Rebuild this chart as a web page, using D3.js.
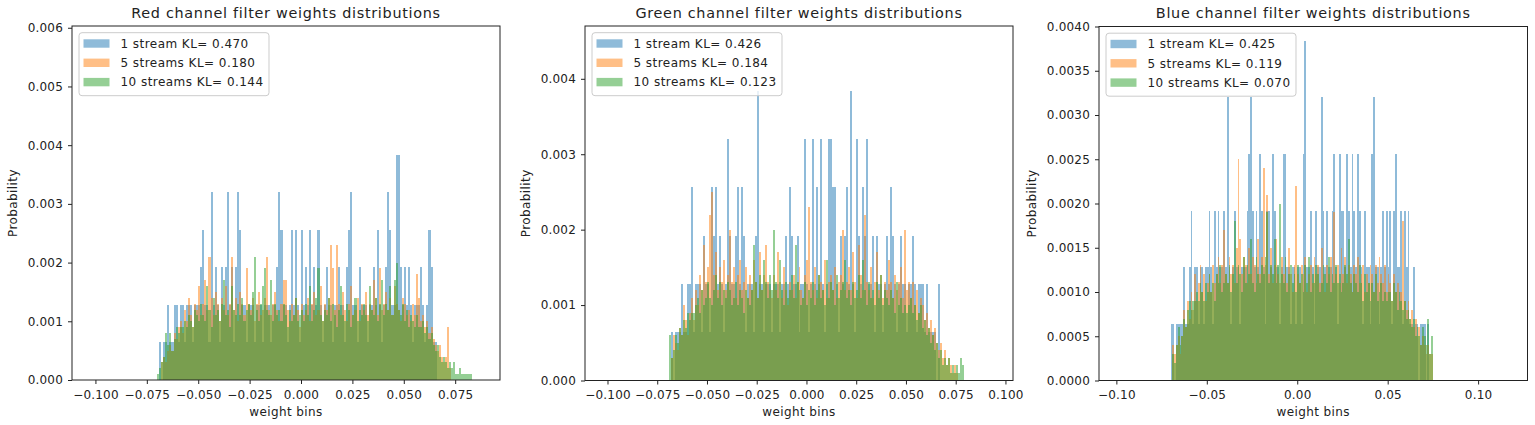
<!DOCTYPE html>
<html><head><meta charset="utf-8">
<script src="https://cdn.jsdelivr.net/npm/d3@7"></script>
<style>body{margin:0;background:#fff}svg{display:block}text{font-family:"DejaVu Sans",sans-serif}</style>
</head><body>
<svg id="c" width="1535" height="425"></svg>
<script>
// ---------------- data ----------------
const BIN_WIDTH = 0.001;
const titles = ["Red channel filter weights distributions","Green channel filter weights distributions","Blue channel filter weights distributions"];
const seriesNames = ["1 stream","5 streams","10 streams"];
const klRed = ["0.470","0.180","0.144"];
const klGreen = ["0.426","0.184","0.123"];
const klBlue = ["0.425","0.119","0.070"];

// Red channel
const redStarts = [-0.069,-0.068,-0.070];
const red1 = [
.00064,0,.00064,.00064,.00128,.00064,.00064,.00128,.00128,.00064,
.00128,.00128,.00064,.00128,.00128,.00128,.00064,.00128,.00128,.00128,
.00192,.00256,.00128,.00128,.00064,.0032,.00128,.00192,.00128,.00064,
.00192,.00128,.00192,.0032,.00128,.00192,.00064,.00192,.0032,.00256,
.00128,.00128,.00064,.00128,.00128,.00128,.00064,.00128,.00128,.00128,
.00064,.00128,.00128,.00128,.00064,.00128,.00128,.00192,.0032,.00256,
.00128,.00128,.00064,.00128,.00256,.00128,.00256,.00128,.00064,.00256,
.00128,.00192,.00128,.00256,.00128,.00192,.00128,.00256,.00128,.00064,
.00128,.00192,.00128,.00128,.00064,.00128,.00128,.00192,.00128,.00128,
.00064,.00192,.00256,.0032,.00128,.00128,.00064,.00192,.00128,.00128,
.00128,.00064,.00128,.00128,.00192,.00128,.00256,.00128,.00064,.00128,
.00192,.0032,.00256,.00128,.00128,.00384,.00384,.00192,.00128,.00192,
.00128,.00192,.00128,.00064,.00128,.00128,.00128,.00192,.00128,.00064,
.00128,.00256,.00192,.00064,.00064];
const red5 = [
.0003,.0004,.0003,.0005,.0006,.0005,.0008,.0007,.0009,.0010,
.0008,.0012,.0010,.0014,.0011,.0009,.0013,.0012,.0016,.0011,
.0013,.0017,.0012,.0021,.0014,.0011,.0015,.0013,.0010,.0014,
.0012,.0016,.0011,.0013,.0021,.0012,.0014,.0010,.0015,.0013,
.0011,.0019,.0013,.0012,.0014,.0010,.0013,.0015,.0011,.0012,
.0014,.0021,.0012,.0011,.0013,.0015,.0012,.0010,.0013,.0017,
.0017,.0012,.0010,.0013,.0011,.0014,.0012,.0009,.0013,.0011,
.0012,.0014,.0010,.0013,.0015,.0011,.0012,.0016,.0010,.0013,
.0012,.0014,.0023,.0019,.0012,.0023,.0013,.0011,.0015,.0012,
.0010,.0013,.0016,.0011,.0012,.0014,.0010,.0013,.0012,.0015,
.0011,.0013,.0012,.0017,.0014,.0011,.0019,.0012,.0013,.0015,
.0012,.0014,.0011,.0016,.0013,.0012,.0010,.0014,.0013,.0011,
.0012,.0010,.0013,.0011,.0018,.0014,.0010,.0011,.0009,.0010,
.0008,.0009,.0007,.0006,.0005,.0006,.0004,.0003,.0004,.0009,
.0002];
const red10 = [
.0001,.0002,.0003,.0004,.0008,.0006,.0008,.0005,.0007,.0009,
.0008,.0009,.0009,.0010,.0009,.0011,.0010,.0009,.0012,.0011,
.0010,.0013,.0011,.0010,.0016,.0012,.0009,.0014,.0011,.0012,
.0010,.0013,.0017,.0011,.0012,.0009,.0016,.0012,.0011,.0013,
.0011,.0014,.0010,.0012,.0013,.0011,.0015,.0021,.0012,.0010,
.0013,.0016,.0019,.0012,.0011,.0017,.0010,.0013,.0011,.0012,
.0010,.0013,.0011,.0009,.0012,.0010,.0011,.0014,.0010,.0011,
.0012,.0010,.0013,.0011,.0016,.0010,.0012,.0014,.0019,.0011,
.0010,.0012,.0011,.0014,.0010,.0013,.0011,.0009,.0012,.0016,
.0011,.0010,.0013,.0012,.0009,.0011,.0014,.0010,.0012,.0011,
.0013,.0011,.0010,.0016,.0012,.0011,.0014,.0010,.0013,.0017,
.0011,.0013,.0012,.0016,.0011,.0017,.0020,.0012,.0011,.0013,
.0010,.0012,.0009,.0011,.0010,.0009,.0011,.0009,.0009,.0010,
.0008,.0009,.0007,.0008,.0006,.0005,.0006,.0004,.0003,.0004,
.0003,.0002,.0003,.0002,.0003,.0001,.0001,.0002,.0001,.0001,
.0001,.0001,.0001];

// Green channel
const greenStarts = [-0.068,-0.068,-0.069];
const green1 = [
.00064,0,.00064,.00064,.00064,.00128,.00064,.00064,.00128,.00128,
.00256,.00064,.00128,.00128,.00128,.00064,.00192,.00128,.00128,.00064,
.00256,.00192,.00256,.00128,.00192,.00128,.00064,.00128,.0032,.00192,
.00128,.00128,.00192,.00256,.00128,.00256,.00192,.00064,.00128,.00128,
.00128,.00064,.00192,.00384,.00128,.00128,.00064,.00128,.00128,.00128,
.00064,.00128,.00128,.00128,.00064,.00128,.00128,.00192,.00128,.00256,
.00192,.00128,.00128,.00192,.00064,.00128,.00128,.0032,.00128,.00064,
.00128,.0032,.00128,.00256,.00128,.0032,.00128,.00064,.00128,.0032,
.0032,.00256,.00256,.00128,.00064,.00192,.00128,.00192,.00256,.00128,
.00384,.00128,.00064,.0032,.00192,.00128,.00256,.00192,.0032,.00128,
.00128,.00192,.00064,.00192,.00128,.00128,.00064,.00128,.00192,.00128,
.00256,.00192,.00128,.00064,.00128,.00192,.00128,.00128,.00064,.00128,
.00128,.00192,.00128,.00064,.00128,.00128,.00128,.00064,.00128,.00064,
.00064,.00064,.00064,0,.00128];
const green5 = [
.0003,.0006,.0005,.0004,.0007,.0006,.0010,.0008,.0006,.0009,
.0011,.0008,.0012,.0010,.0014,.0012,.0018,.0013,.0015,.0022,
.0025,.0014,.0017,.0012,.0015,.0013,.0016,.0012,.0014,.0020,
.0013,.0015,.0011,.0014,.0016,.0012,.0013,.0015,.0011,.0014,
.0012,.0016,.0013,.0011,.0017,.0012,.0014,.0018,.0013,.0012,
.0011,.0014,.0012,.0017,.0013,.0011,.0015,.0012,.0010,.0013,
.0012,.0014,.0011,.0013,.0015,.0012,.0011,.0014,.0016,.0023,
.0013,.0012,.0015,.0011,.0014,.0013,.0012,.0016,.0011,.0013,
.0014,.0012,.0015,.0011,.0013,.0014,.0020,.0012,.0013,.0015,
.0012,.0017,.0013,.0011,.0018,.0014,.0012,.0022,.0013,.0012,
.0015,.0011,.0013,.0017,.0012,.0014,.0011,.0013,.0012,.0016,
.0013,.0011,.0014,.0012,.0013,.0015,.0011,.0020,.0012,.0013,
.0011,.0013,.0010,.0012,.0009,.0011,.0010,.0008,.0009,.0007,
.0008,.0006,.0007,.0005,.0004,.0005,.0003,.0004,.0002,.0003,
.0002,.0001,.0002,.0001];
const green10 = [
.0006,.0003,.0004,.0006,.0005,.0007,.0006,.0008,.0007,.0009,
.0008,.0009,.0009,.0010,.0011,.0009,.0012,.0010,.0011,.0013,
.0011,.0010,.0012,.0014,.0011,.0013,.0010,.0012,.0011,.0013,
.0012,.0010,.0011,.0013,.0010,.0012,.0011,.0009,.0012,.0011,
.0010,.0012,.0018,.0013,.0011,.0014,.0012,.0016,.0013,.0011,
.0014,.0012,.0020,.0013,.0011,.0016,.0012,.0010,.0013,.0011,
.0012,.0014,.0011,.0018,.0013,.0012,.0010,.0011,.0013,.0010,
.0012,.0011,.0013,.0010,.0012,.0014,.0011,.0012,.0010,.0016,
.0011,.0013,.0012,.0010,.0014,.0011,.0012,.0013,.0016,.0011,
.0012,.0010,.0013,.0011,.0012,.0014,.0011,.0016,.0012,.0010,
.0013,.0011,.0012,.0010,.0013,.0011,.0014,.0010,.0012,.0011,
.0010,.0012,.0011,.0009,.0013,.0010,.0011,.0009,.0010,.0009,
.0010,.0011,.0009,.0010,.0008,.0009,.0010,.0007,.0008,.0006,
.0007,.0005,.0006,.0004,.0005,.0003,.0004,.0002,.0003,.0002,
.0003,.0001,.0002,.0001,.0002,.0001,.0003,.0002];

// Blue channel
const blueStarts = [-0.070,-0.069,-0.069];
const blue1 = [
.00064,.00064,0,.00064,.00064,.00064,.00064,.00128,.00064,.00064,
.00128,.00192,.00064,.00128,.00128,.00064,.00128,.00128,.00064,.00128,
.00128,.00192,.00128,.00064,.00192,.00128,.00192,.00128,.00128,.00192,
.00128,.0032,.00128,.00064,.00128,.00192,.00128,.00128,.00064,.00128,
.00128,.00128,.00192,.00256,.0032,.00192,.00128,.00192,.00128,.00256,
.00192,.00128,.00064,.00192,.00192,.00128,.00256,.00192,.00128,.00128,
.00064,.00128,.00256,.00256,.00128,.00128,.00064,.00128,.00128,.00064,
.00128,.00128,.00064,.00256,.00384,.00128,.00128,.00192,.00128,.00064,
.00192,.00128,.00128,.0032,.00192,.00128,.00192,.00128,.00128,.00192,
.00256,.00128,.00064,.00256,.00192,.00192,.00128,.00256,.00192,.00128,
.00256,.00192,.00128,.00256,.00192,.00128,.00064,.00192,.00128,.00128,
.00064,.00256,.0032,.00128,.00128,.00064,.00128,.00192,.00128,.00192,
.00128,.00192,.00064,.00192,.00256,.00128,.00128,.00192,.00064,.00192,
.00128,.00192,.00064,.00064,.00128,.00064,.00064,0,.00064,.00064,
.00064,0,.00064];
const blue5 = [
.0004,.0003,.0004,.0005,.0003,.0005,.0008,.0006,.0009,.0007,
.0010,.0008,.0012,.0009,.0011,.0013,.0010,.0012,.0009,.0011,
.0012,.0010,.0013,.0011,.0012,.0014,.0011,.0013,.0017,.0012,
.0011,.0014,.0012,.0013,.0011,.0015,.0025,.0016,.0012,.0014,
.0013,.0011,.0015,.0012,.0014,.0013,.0011,.0016,.0012,.0014,
.0024,.0013,.0021,.0012,.0015,.0011,.0013,.0016,.0012,.0011,
.0014,.0012,.0013,.0011,.0015,.0012,.0010,.0013,.0022,.0012,
.0011,.0013,.0012,.0014,.0010,.0012,.0013,.0011,.0014,.0012,
.0013,.0011,.0015,.0012,.0010,.0013,.0012,.0014,.0011,.0019,
.0012,.0013,.0011,.0015,.0012,.0014,.0011,.0013,.0012,.0010,
.0013,.0012,.0014,.0011,.0012,.0013,.0010,.0012,.0011,.0013,
.0012,.0010,.0013,.0011,.0014,.0012,.0011,.0013,.0010,.0012,
.0011,.0009,.0012,.0010,.0011,.0009,.0010,.0018,.0009,.0008,
.0009,.0007,.0008,.0006,.0007,.0005,.0006,.0004,.0005,.0004,
.0003,.0004,.0003,.0003];
const blue10 = [
.0003,.0002,.0004,.0006,.0004,.0005,.0007,.0006,.0008,.0009,
.0008,.0009,.0009,.0010,.0009,.0011,.0010,.0009,.0011,.0010,
.0012,.0010,.0011,.0009,.0012,.0011,.0013,.0010,.0011,.0012,
.0011,.0013,.0010,.0012,.0018,.0011,.0013,.0012,.0010,.0014,
.0011,.0013,.0012,.0016,.0011,.0010,.0014,.0012,.0011,.0013,
.0012,.0014,.0019,.0011,.0013,.0012,.0016,.0011,.0013,.0020,
.0012,.0011,.0014,.0010,.0012,.0013,.0011,.0012,.0010,.0013,
.0011,.0012,.0010,.0013,.0011,.0014,.0010,.0012,.0011,.0013,
.0012,.0010,.0011,.0013,.0012,.0011,.0014,.0010,.0012,.0011,
.0013,.0011,.0012,.0010,.0011,.0013,.0012,.0016,.0011,.0010,
.0012,.0011,.0010,.0013,.0011,.0009,.0012,.0010,.0011,.0009,
.0011,.0010,.0012,.0009,.0010,.0011,.0009,.0010,.0009,.0010,
.0010,.0009,.0011,.0010,.0008,.0010,.0009,.0008,.0009,.0007,
.0008,.0007,.0006,.0007,.0005,.0006,.0005,.0004,.0006,.0005,
.0004,.0007,.0003,.0005];

// Tick values
const xTicksRed = [-0.100,-0.075,-0.050,-0.025,0.000,0.025,0.050,0.075];
const xTicksGreen = [-0.100,-0.075,-0.050,-0.025,0.000,0.025,0.050,0.075,0.100];
const xTicksBlue = [-0.10,-0.05,0.00,0.05,0.10];
const yTicksRed = [0,0.001,0.002,0.003,0.004,0.005,0.006];
const yTicksGreen = [0,0.001,0.002,0.003,0.004];
const yTicksBlue = [0,0.0005,0.0010,0.0015,0.0020,0.0025,0.0030,0.0035,0.0040];

// ---------------- layout ----------------
const colors = ["#1f77b4","#ff7f0e","#2ca02c"];
const panels = [
  {title:titles[0], kl:klRed, starts:redStarts, series:[red1,red5,red10], left:72, right:500, top:26, bottom:380,
   xDomain:[-0.1114,0.0968], yMax:0.00603, xTicks:xTicksRed, yTicks:yTicksRed, xFmt:".3f", yFmt:".3f", ylabX:13},
  {title:titles[1], kl:klGreen, starts:greenStarts, series:[green1,green5,green10], left:585, right:1013, top:26, bottom:380.5,
   xDomain:[-0.1113,0.1038], yMax:0.0047, xTicks:xTicksGreen, yTicks:yTicksGreen, xFmt:".3f", yFmt:".3f", ylabX:526},
  {title:titles[2], kl:klBlue, starts:blueStarts, series:[blue1,blue5,blue10], left:1099, right:1527.5, top:26.5, bottom:380.5,
   xDomain:[-0.1096,0.1273], yMax:0.0040, xTicks:xTicksBlue, yTicks:yTicksBlue, xFmt:".2f", yFmt:".4f", ylabX:1032}
];

const svg = d3.select("#c");

panels.forEach(p => {
  const x = d3.scaleLinear().domain(p.xDomain).range([p.left, p.right]);
  const y = d3.scaleLinear().domain([0, p.yMax]).range([p.bottom, p.top]);
  const g = svg.append("g");

  p.series.forEach((vals, j) => {
    const s0 = p.starts[j];
    g.append("g").selectAll("rect").data(vals).join("rect")
      .attr("x", (d, k) => x(s0 + k * BIN_WIDTH))
      .attr("width", (d, k) => x(s0 + (k + 1) * BIN_WIDTH) - x(s0 + k * BIN_WIDTH))
      .attr("y", d => y(d))
      .attr("height", d => y(0) - y(d))
      .attr("fill", colors[j])
      .attr("fill-opacity", 0.5)
      .attr("shape-rendering", "crispEdges");
  });

  // axes
  const xa = g.append("g").attr("transform", `translate(0,${p.bottom})`)
    .call(d3.axisBottom(x).tickValues(p.xTicks).tickFormat(d3.format(p.xFmt)).tickSize(4).tickPadding(6));
  const ya = g.append("g").attr("transform", `translate(${p.left},0)`)
    .call(d3.axisLeft(y).tickValues(p.yTicks).tickFormat(d3.format(p.yFmt)).tickSize(4).tickPadding(5));
  [xa, ya].forEach(a => {
    a.select(".domain").remove();
    a.selectAll("line").attr("stroke", "#222");
    a.selectAll("text").attr("font-size", 12).attr("fill", "#222")
      .attr("font-family", "DejaVu Sans").attr("letter-spacing", 0.2);
  });

  // frame
  g.append("rect").attr("x", p.left).attr("y", p.top)
    .attr("width", p.right - p.left).attr("height", p.bottom - p.top)
    .attr("fill", "none").attr("stroke", "#222").attr("stroke-width", 1);

  // title & labels
  const cx = (p.left + p.right) / 2;
  g.append("text").attr("x", cx).attr("y", 18).attr("text-anchor", "middle")
    .attr("font-size", 14.4).attr("letter-spacing", 0.7).attr("fill", "#222").text(p.title);
  g.append("text").attr("x", cx).attr("y", 416).attr("text-anchor", "middle")
    .attr("font-size", 12).attr("letter-spacing", 0.4).attr("fill", "#222").text("weight bins");
  g.append("text").attr("transform", `translate(${p.ylabX},${(p.top + p.bottom) / 2}) rotate(-90)`)
    .attr("text-anchor", "middle").attr("dy", "0.35em").attr("letter-spacing", 0.4)
    .attr("font-size", 12).attr("fill", "#222").text("Probability");

  // legend
  const lx = p.left + 7, ly = p.top + 6.7;
  const lg = g.append("g");
  const box = lg.append("rect").attr("x", lx).attr("y", ly).attr("height", 63)
    .attr("rx", 3).attr("fill", "#fff").attr("fill-opacity", 0.8)
    .attr("stroke", "#ccc").attr("stroke-width", 1);
  let maxW = 0;
  seriesNames.forEach((nm, j) => {
    const cy = ly + 10.8 + j * 19.3;
    lg.append("rect").attr("x", lx + 4.5).attr("y", cy - 4.2).attr("width", 26).attr("height", 8.4)
      .attr("fill", colors[j]).attr("fill-opacity", 0.5);
    const t = lg.append("text").attr("x", lx + 41.5).attr("y", cy + 4.3)
      .attr("font-size", 12).attr("letter-spacing", 0.45).attr("fill", "#222").text(`${nm} KL= ${p.kl[j]}`);
    maxW = Math.max(maxW, t.node().getComputedTextLength());
  });
  box.attr("width", 41.5 + maxW + 5.5);
});
</script>
</body></html>
